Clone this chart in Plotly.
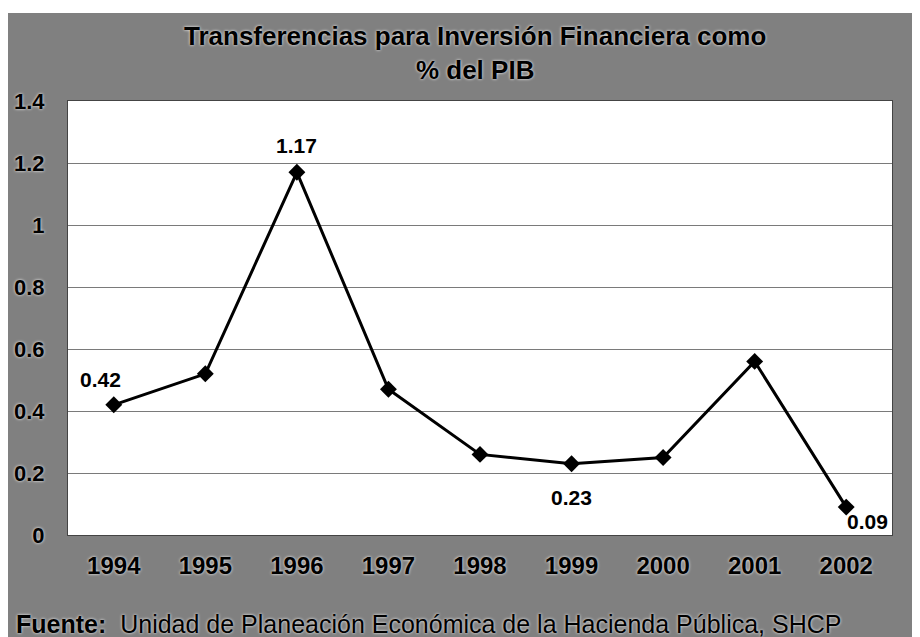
import plotly.graph_objects as go

years = ["1994", "1995", "1996", "1997", "1998", "1999", "2000", "2001", "2002"]
values = [0.42, 0.52, 1.17, 0.47, 0.26, 0.23, 0.25, 0.56, 0.09]
y_ticks = [0, 0.2, 0.4, 0.6, 0.8, 1.0, 1.2, 1.4]
y_tick_labels = ["0", "0.2", "0.4", "0.6", "0.8", "1", "1.2", "1.4"]
labeled_idx = [0, 2, 5, 8]
label_offsets = {0: (-13, 25), 2: (0, 27), 5: (0, -34), 8: (21, -14)}

title_text = "Transferencias para Inversión Financiera como<br>% del PIB"
source_text = "<b>Fuente:</b>  Unidad de Planeación Económica de la Hacienda Pública, SHCP"

FONT = "Liberation Sans, Arial, sans-serif"
HALO = "0px 0px 3px white"

fig = go.Figure()
fig.add_trace(go.Scatter(
    x=years, y=values, mode="lines+markers",
    line=dict(color="black", width=3),
    marker=dict(symbol="diamond", size=13, color="black"),
    hoverinfo="x+y", showlegend=False,
))

for i in labeled_idx:
    dx, dy = label_offsets[i]
    fig.add_annotation(
        x=i, y=values[i], xref="x", yref="y",
        text=f"{values[i]:.2f}", showarrow=False,
        xshift=dx, yshift=dy,
        font=dict(family=FONT, size=21, color="black", weight="bold"),
    )

fig.add_annotation(
    xref="paper", yref="paper", x=0.494, y=1.1106, xanchor="center", yanchor="middle",
    text=title_text, showarrow=False,
    font=dict(family=FONT, size=26, color="black", weight="bold", shadow=HALO),
)
fig.add_annotation(
    xref="paper", yref="paper", x=-0.0655, y=-0.2051, xanchor="left", yanchor="middle",
    text=source_text, showarrow=False,
    font=dict(family=FONT, size=25, color="black", shadow=HALO),
)

# white strip of the scanned page at the top
fig.add_shape(type="rect", xref="paper", yref="paper", x0=-0.2, x1=1.2, y0=1.2028, y1=1.3,
              fillcolor="white", line=dict(width=0), layer="below")

fig.update_layout(
    width=920, height=637,
    margin=dict(l=60, r=36, t=93, b=110, autoexpand=False),
    paper_bgcolor="#808080",
    plot_bgcolor="white",
    showlegend=False,
)
fig.update_xaxes(
    type="category", range=[-0.5, 8.5], automargin=False,
    showgrid=False, zeroline=False,
    showline=True, linecolor="#444", linewidth=1, mirror=True,
    ticks="outside", ticklen=0, ticklabelstandoff=9,
    tickfont=dict(family=FONT, size=24, color="black", weight="bold", shadow=HALO),
)
fig.update_yaxes(
    range=[0, 1.4], tickvals=y_ticks, ticktext=y_tick_labels, automargin=False,
    showgrid=True, gridcolor="#7a7a7a", gridwidth=1, zeroline=False,
    showline=True, linecolor="#444", linewidth=1, mirror=True,
    ticks="outside", ticklen=0, ticklabelstandoff=18,
    tickfont=dict(family=FONT, size=22, color="black", weight="bold", shadow=HALO),
)

fig.write_html("out.html")
